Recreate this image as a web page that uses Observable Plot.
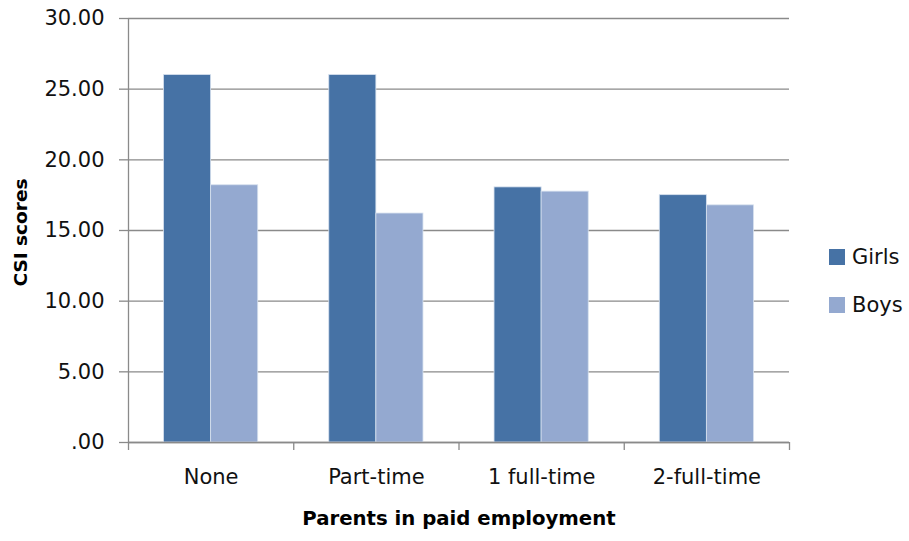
<!DOCTYPE html>
<html>
<head>
<meta charset="utf-8">
<script src="https://cdn.jsdelivr.net/npm/d3@7"></script>
<script src="https://cdn.jsdelivr.net/npm/@observablehq/plot@0.6"></script>
<style>
  html, body { margin: 0; padding: 0; background: #fff; }
  #wrap { position: relative; width: 909px; height: 541px; }
  svg { font-family: "DejaVu Sans", sans-serif; }
  g[aria-label="y-axis tick"], g[aria-label="x-axis tick"] { stroke: #8a8a8a; stroke-width: 1.3; }
  .legend { position: absolute; left: 829px; font-family: "DejaVu Sans", sans-serif; font-size: 21px; color: #111; display: flex; align-items: center; }
  .legend .sw { width: 16px; height: 16px; margin-right: 7px; }
</style>
</head>
<body>
<div id="wrap"></div>
<script>
const categories = ["None", "Part-time", "1 full-time", "2-full-time"];
const series = ["Girls", "Boys"];
const girls = [26.0, 26.0, 18.05, 17.5];
const boys = [18.2, 16.2, 17.75, 16.78];
const colors = ["#4672a5", "#94a9d0"];
const yTicks = [0, 5, 10, 15, 20, 25, 30];

const rows = [];
categories.forEach((c, i) => {
  rows.push({ i, category: c, series: "Girls", value: girls[i] });
  rows.push({ i, category: c, series: "Boys", value: boys[i] });
});
// group layout inside each category band (fractions of the band)
const slot = { Girls: [0.215, 0.5], Boys: [0.5, 0.785] };

const fmt = v => v === 0 ? ".00" : v.toFixed(2);

const plot = Plot.plot({
  width: 909,
  height: 541,
  marginTop: 18,
  marginLeft: 128,
  marginRight: 120,
  marginBottom: 99,
  style: { fontFamily: "DejaVu Sans", fontSize: "21px", color: "#111", background: "#fff" },
  x: { type: "linear", domain: [0, categories.length], axis: null },
  y: { domain: [0, 30], axis: null },
  color: { domain: series, range: colors },
  marks: [
    Plot.gridY(yTicks, { stroke: "#8a8a8a", strokeOpacity: 1, strokeWidth: 1.3 }),
    Plot.rectY(rows, {
      x1: d => d.i + slot[d.series][0],
      x2: d => d.i + slot[d.series][1],
      y1: 0,
      y2: "value",
      fill: "series",
      stroke: "#d6e0ee",
      strokeWidth: 0.8
    }),
    Plot.ruleX([0], { stroke: "#8a8a8a", strokeWidth: 1.3 }),
    Plot.ruleY([0], { stroke: "#8a8a8a", strokeWidth: 1.3 }),
    Plot.axisY({ ticks: yTicks, tickFormat: fmt, tickSize: 9, tickPadding: 15, label: null, fontSize: 21 }),
    Plot.axisX({ ticks: d3.range(categories.length + 1), tickFormat: () => "", tickSize: 8, label: null }),
    Plot.axisX({ ticks: categories.map((c, i) => i + 0.5), tickFormat: v => categories[Math.floor(v)], tickSize: 0, tickPadding: 27, label: null, fontSize: 21 }),
    Plot.text(["Parents in paid employment"], { frameAnchor: "bottom", lineAnchor: "middle", dy: 76, fontWeight: "bold", fontSize: 19.7, fill: "#000" }),
    Plot.text(["CSI scores"], { frameAnchor: "left", textAnchor: "middle", lineAnchor: "middle", rotate: -90, dx: -107, dy: 2, fontWeight: "bold", fontSize: 18.5, fill: "#000" })
  ]
});
const wrap = document.getElementById("wrap");
wrap.appendChild(plot);

const legendTops = [245, 293];
series.forEach((s, k) => {
  const div = document.createElement("div");
  div.className = "legend";
  div.style.top = legendTops[k] + "px";
  div.innerHTML = `<div class="sw" style="background:${colors[k]}"></div><span>${s}</span>`;
  wrap.appendChild(div);
});
</script>
</body>
</html>
